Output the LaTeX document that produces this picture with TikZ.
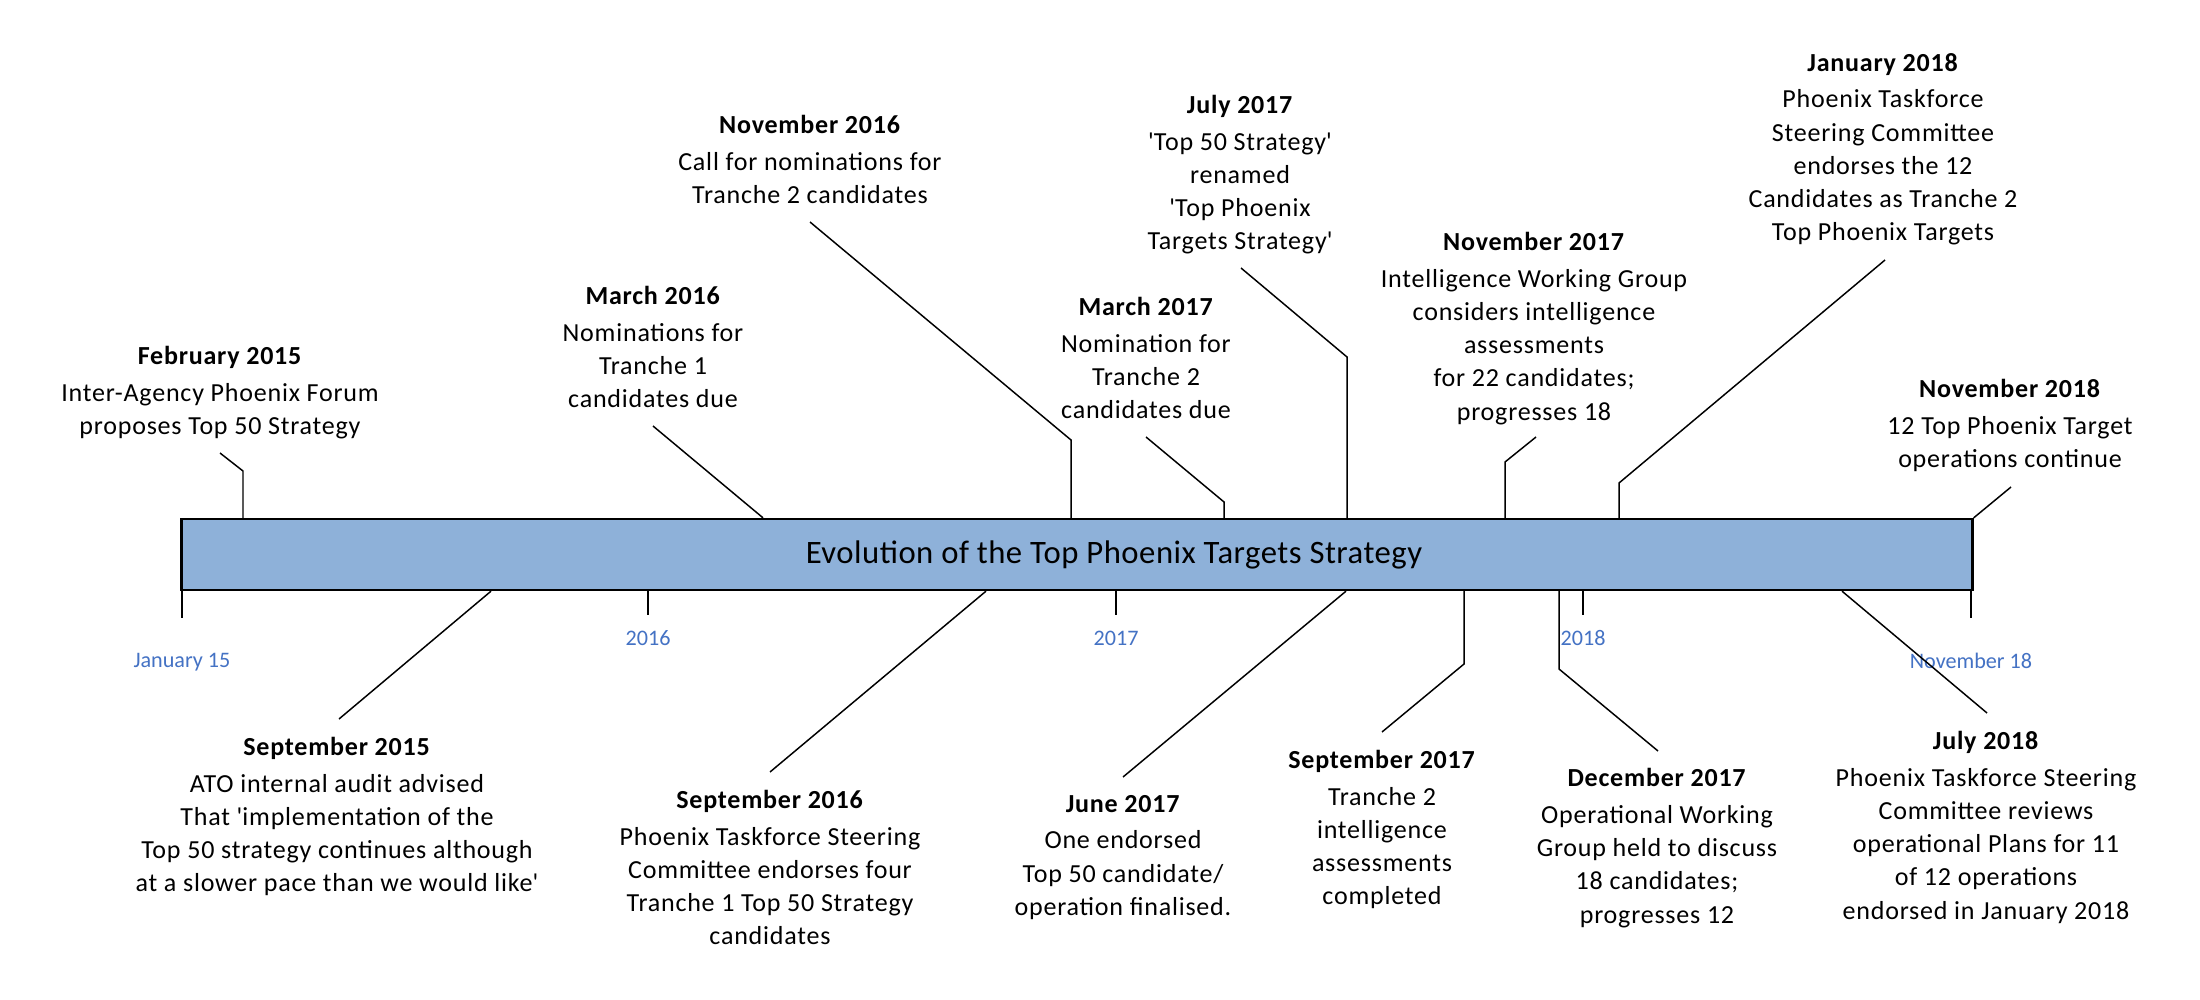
\documentclass[tikz,border=0pt]{standalone}
\usepackage{fontspec}
\setmainfont{Carlito}[LetterSpace=3]
\newfontfamily\ticksfont{Carlito}
\newfontfamily\titlefont{Carlito}[LetterSpace=1.5]
\newcommand{\q}{\textquotesingle}
\definecolor{barblue}{RGB}{142,177,217}
\definecolor{ticktext}{RGB}{68,114,196}
\begin{document}
\begin{tikzpicture}[x=0.01cm,y=-0.01cm,
  event/.style={align=center, inner sep=0, anchor=north, font=\fontsize{7.4}{9.47}\selectfont},
  conn/.style={line width=0.42pt, black},
  tickline/.style={line width=0.5pt, black},
  ticklabel/.style={inner sep=0, text=ticktext, font=\ticksfont\fontsize{6.3}{7.5}\selectfont},
  barbox/.style={draw=black, line width=0.65pt, fill=barblue, inner sep=0,
    minimum width=17.90cm, minimum height=0.71cm}]
\useasboundingbox (0,0) rectangle (2200,1000);
\fill[white] (0,0) rectangle (2200,1000);

% bar
\node[barbox] (bar) at (1077,554.5) {};
\node[inner sep=0, font=\titlefont\fontsize{9.3}{11}\selectfont] (title) at (1114,554.5) {Evolution of the Top Phoenix Targets Strategy};

% ticks and tick labels
\draw[tickline] (182,0 |- bar.south) -- ++(0,27);
\draw[tickline] (648,0 |- bar.south) -- ++(0,24);
\draw[tickline] (1116,0 |- bar.south) -- ++(0,24);
\draw[tickline] (1583,0 |- bar.south) -- ++(0,24);
\draw[tickline] (1971,0 |- bar.south) -- ++(0,27);
\node[ticklabel] (l15) at (182,662) {January 15};
\node[ticklabel] (l16) at (648,638) {2016};
\node[ticklabel] (l17) at (1116,638) {2017};
\node[ticklabel] (l18) at (1583,638) {2018};
\node[ticklabel] (l18n) at (1971,661) {November 18};

% events above the bar
\node[event] (e1) at (220,346) {\textbf{February 2015}\\[0.8pt]Inter-Agency Phoenix Forum\\proposes Top 50 Strategy};
\node[event] (e2) at (653,286) {\textbf{March 2016}\\[0.8pt]Nominations for\\Tranche 1\\candidates due};
\node[event] (e3) at (810,115) {\textbf{November 2016}\\[0.8pt]Call for nominations for\\Tranche 2 candidates};
\node[event] (e4) at (1146,297) {\textbf{March 2017}\\[0.8pt]Nomination for\\Tranche 2\\candidates due};
\node[event] (e5) at (1240,95) {\textbf{July 2017}\\[0.8pt]\q Top 50 Strategy\q\\renamed\\\q Top Phoenix\\Targets Strategy\q};
\node[event] (e6) at (1534,232) {\textbf{November 2017}\\[0.8pt]Intelligence Working Group\\considers intelligence\\assessments\\for 22 candidates;\\progresses 18};
\node[event] (e7) at (1883,53) {\textbf{January 2018}\\[0.8pt]Phoenix Taskforce\\Steering Committee\\endorses the 12\\Candidates as Tranche 2\\Top Phoenix Targets};
\node[event] (e8) at (2010,379) {\textbf{November 2018}\\[0.8pt]12 Top Phoenix Target\\operations continue};

% events below the bar
\node[event] (e9) at (337,737) {\textbf{September 2015}\\[0.8pt]ATO internal audit advised\\That \q implementation of the\\Top 50 strategy continues although\\at a slower pace than we would like\q};
\node[event] (e10) at (770,790) {\textbf{September 2016}\\[0.8pt]Phoenix Taskforce Steering\\Committee endorses four\\Tranche 1 Top 50 Strategy\\candidates};
\node[event] (e11) at (1123,795) {\textbf{June 2017}\\[0.8pt]One endorsed\\Top 50 candidate/\\operation finalised.};
\node[event] (e12) at (1382,750) {\textbf{September 2017}\\[0.8pt]Tranche 2\\intelligence\\assessments\\completed};
\node[event] (e13) at (1657,768) {\textbf{December 2017}\\[0.8pt]Operational Working\\Group held to discuss\\18 candidates;\\progresses 12};
\node[event] (e14) at (1986,731) {\textbf{July 2018}\\[0.8pt]Phoenix Taskforce Steering\\Committee reviews\\operational Plans for 11\\of 12 operations\\endorsed in January 2018};

% connector ends near the texts
\coordinate (c1) at (220,453);
\coordinate (c2) at (653,426);
\coordinate (c3) at (810,222);
\coordinate (c4) at (1146,437);
\coordinate (c5) at (1241,268);
\coordinate (c6) at (1536,437);
\coordinate (c7) at (1885,260);
\coordinate (c8) at (2011,487);
\coordinate (c9) at (339,719);
\coordinate (c10) at (770,772);
\coordinate (c11) at (1123,777);
\coordinate (c12) at (1382,732);
\coordinate (c13) at (1658,751);
\coordinate (c14) at (1987,713);

% connectors above
\draw[conn] (c1) -- (243,471) -- (243,0 |- bar.north);
\draw[conn] (c2) -- (763,0 |- bar.north);
\draw[conn] (c3) -- (1071,440) -- (1071,0 |- bar.north);
\draw[conn] (c4) -- (1224,502) -- (1224,0 |- bar.north);
\draw[conn] (c5) -- (1347,357) -- (1347,0 |- bar.north);
\draw[conn] (c6) -- (1505,462) -- (1505,0 |- bar.north);
\draw[conn] (c7) -- (1619,483) -- (1619,0 |- bar.north);
\draw[conn] (c8) -- (bar.north east);
% connectors below
\draw[conn] (c9) -- (491,0 |- bar.south);
\draw[conn] (c10) -- (986,0 |- bar.south);
\draw[conn] (c11) -- (1346,0 |- bar.south);
\draw[conn] (c12) -- (1464,664) -- (1464,0 |- bar.south);
\draw[conn] (c13) -- (1559,669) -- (1559,0 |- bar.south);
\draw[conn] (c14) -- (1842,0 |- bar.south);
\end{tikzpicture}
\end{document}
